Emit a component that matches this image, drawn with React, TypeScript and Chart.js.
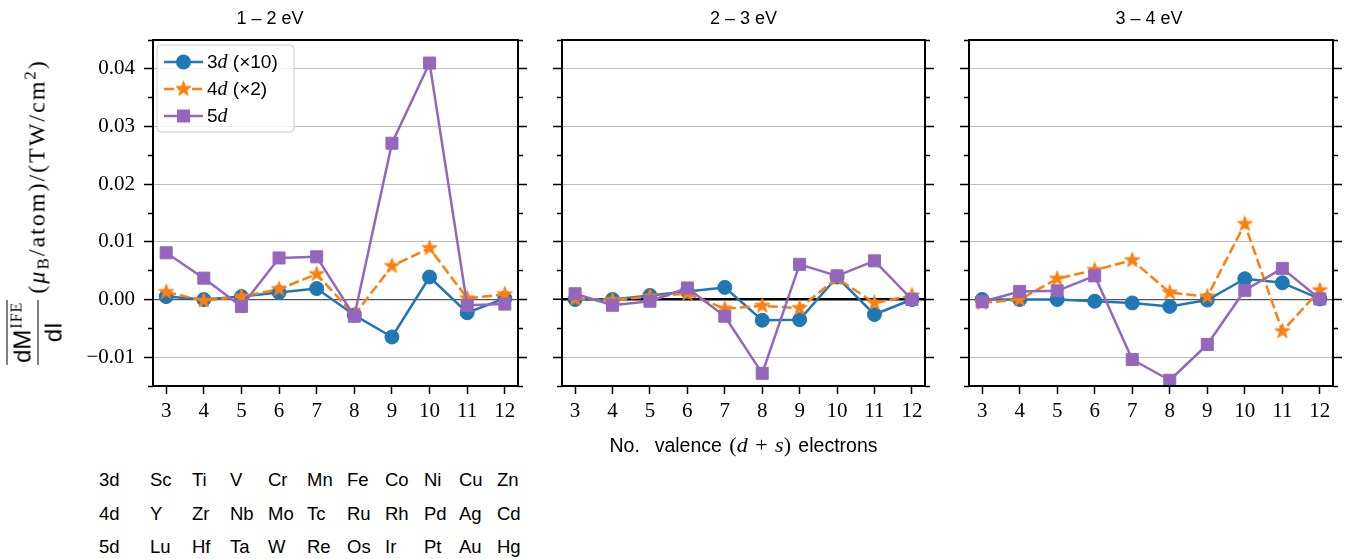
import React, { useEffect, useRef } from 'react';
import { Chart, registerables } from 'chart.js';

Chart.register(...registerables);

// Horizontal axis: number of valence (d + s) electrons
const valenceElectrons = [3, 4, 5, 6, 7, 8, 9, 10, 11, 12];
const xTickValues = [3, 4, 5, 6, 7, 8, 9, 10, 11, 12];
const yTickValues = [-0.015, -0.01, -0.005, 0, 0.005, 0.01, 0.015, 0.02, 0.025, 0.03, 0.035, 0.04, 0.045];
const yLabelledTicks = [-0.01, 0, 0.01, 0.02, 0.03, 0.04];

const panelTitles = ['1 – 2 eV', '2 – 3 eV', '3 – 4 eV'];
const seriesLabels = ['3d (×10)', '4d (×2)', '5d'];

// Photon energy 1–2 eV
const band12_3d = [0.0005, 0.0, 0.0005, 0.0012, 0.0019, -0.0027, -0.0065, 0.0039, -0.0023, 0.0002];
const band12_4d = [0.0013, -0.0002, 0.0005, 0.0018, 0.0044, -0.0027, 0.0058, 0.0089, 0.0002, 0.0009];
const band12_5d = [0.0081, 0.0037, -0.0012, 0.0072, 0.0074, -0.0029, 0.0271, 0.0410, -0.0010, -0.0008];

// Photon energy 2–3 eV
const band23_3d = [0.0, 0.0, 0.0007, 0.0014, 0.0021, -0.0036, -0.0035, 0.0039, -0.0026, 0.0];
const band23_4d = [0.0001, -0.0001, 0.0005, 0.0010, -0.0016, -0.0011, -0.0015, 0.0037, -0.0006, 0.0007];
const band23_5d = [0.0010, -0.0010, -0.0003, 0.0020, -0.0029, -0.0128, 0.0061, 0.0041, 0.0067, 0.0];

// Photon energy 3–4 eV
const band34_3d = [0.0, 0.0, 0.0, -0.0003, -0.0006, -0.0012, -0.0001, 0.0036, 0.0029, 0.0001];
const band34_4d = [-0.0006, 0.0, 0.0036, 0.0051, 0.0068, 0.0012, 0.0005, 0.0131, -0.0055, 0.0016];
const band34_5d = [-0.0004, 0.0014, 0.0015, 0.0041, -0.0104, -0.0140, -0.0078, 0.0016, 0.0054, 0.0001];

// Element key below the first panel
const shellLabels = ['3d', '4d', '5d'];
const elements3d = ['Sc', 'Ti', 'V', 'Cr', 'Mn', 'Fe', 'Co', 'Ni', 'Cu', 'Zn'];
const elements4d = ['Y', 'Zr', 'Nb', 'Mo', 'Tc', 'Ru', 'Rh', 'Pd', 'Ag', 'Cd'];
const elements5d = ['Lu', 'Hf', 'Ta', 'W', 'Re', 'Os', 'Ir', 'Pt', 'Au', 'Hg'];

const SANS = '"Liberation Sans", Arial, Helvetica, sans-serif';
const SERIF = '"Liberation Serif", "Times New Roman", serif';
const BLUE = '#1f77b4';
const ORANGE = '#ff7f0e';
const PURPLE = '#9467bd';
const GRID = 'rgba(0,0,0,0.25)';
const LINE_W = 2.5;

const CANVAS_H = 440;
const PLOT_TOP = 40;
const PLOT_BOTTOM = 386;

const panels = [
  { title: panelTitles[0], series: [band12_3d, band12_4d, band12_5d], canvasLeft: 0, canvasWidth: 540, plotLeft: 153, plotRight: 518, zeroColor: '#555', zeroWidth: 1.2, yLabels: true, legend: true },
  { title: panelTitles[1], series: [band23_3d, band23_4d, band23_5d], canvasLeft: 540, canvasWidth: 407, plotLeft: 562, plotRight: 925, zeroColor: '#000', zeroWidth: 2.5, yLabels: false, legend: false },
  { title: panelTitles[2], series: [band34_3d, band34_4d, band34_5d], canvasLeft: 947, canvasWidth: 404, plotLeft: 969, plotRight: 1333, zeroColor: '#555', zeroWidth: 1.2, yLabels: false, legend: false },
];

const tableColumnX = [150, 192, 230, 268, 307, 347, 385, 424, 459, 497];
const tableRowY = [480, 514, 547];

const isLabelled = (v: number) => yLabelledTicks.some((t) => Math.abs(t - v) < 1e-9);

function makeStar(color: string, outer: number, inner: number) {
  const pad = 1.5;
  const size = Math.ceil(2 * (outer + pad));
  const c = document.createElement('canvas');
  c.width = size;
  c.height = size;
  const g = c.getContext('2d')!;
  g.translate(size / 2, size / 2);
  g.beginPath();
  for (let k = 0; k < 10; k++) {
    const r = k % 2 === 0 ? outer : inner;
    const a = -Math.PI / 2 + (k * Math.PI) / 5;
    const px = r * Math.cos(a);
    const py = r * Math.sin(a);
    if (k === 0) g.moveTo(px, py);
    else g.lineTo(px, py);
  }
  g.closePath();
  g.fillStyle = color;
  g.fill();
  g.lineWidth = 1;
  g.strokeStyle = color;
  g.stroke();
  return c;
}

// Spines around the plotting area
const framePlugin = {
  id: 'frame',
  afterDatasetsDraw(chart: any) {
    const { ctx, chartArea } = chart;
    const { left, top, right, bottom } = chartArea;
    ctx.save();
    ctx.strokeStyle = '#000';
    ctx.lineWidth = 2;
    ctx.strokeRect(left, top, right - left, bottom - top);
    ctx.restore();
  },
};

// Legend with line + marker samples, drawn inside the first panel
const legendPlugin = {
  id: 'lineMarkerLegend',
  afterDraw(chart: any) {
    const ctx: CanvasRenderingContext2D = chart.ctx;
    const bx = 157, by = 45, bw = 137, bh = 87, r = 4;
    ctx.save();
    ctx.beginPath();
    ctx.moveTo(bx + r, by);
    ctx.arcTo(bx + bw, by, bx + bw, by + bh, r);
    ctx.arcTo(bx + bw, by + bh, bx, by + bh, r);
    ctx.arcTo(bx, by + bh, bx, by, r);
    ctx.arcTo(bx, by, bx + bw, by, r);
    ctx.closePath();
    ctx.fillStyle = 'rgba(255,255,255,0.8)';
    ctx.fill();
    ctx.strokeStyle = '#cccccc';
    ctx.lineWidth = 1;
    ctx.stroke();

    const rows = [62, 89, 116];
    [0, 1, 2].forEach((di, k) => {
      const ds = chart.data.datasets[di];
      const y = rows[k];
      ctx.setLineDash(ds.borderDash || []);
      ctx.strokeStyle = ds.borderColor;
      ctx.lineWidth = ds.borderWidth;
      ctx.beginPath();
      ctx.moveTo(164, y);
      ctx.lineTo(203, y);
      ctx.stroke();
      ctx.setLineDash([]);
      const mx = 183.5;
      ctx.fillStyle = ds.pointBackgroundColor;
      if (typeof ds.pointStyle === 'object') {
        const img = ds.pointStyle as HTMLCanvasElement;
        ctx.drawImage(img, mx - img.width / 2, y - img.height / 2);
      } else if (ds.pointStyle === 'rect') {
        ctx.fillRect(mx - 6.5, y - 6.5, 13, 13);
      } else {
        ctx.beginPath();
        ctx.arc(mx, y, 7.5, 0, Math.PI * 2);
        ctx.fill();
      }
      // label: leading digit in sans, orbital letter in math italic, rest in sans
      const label: string = ds.label;
      const parts: [string, string][] = [
        [label.slice(0, 1), `19px ${SANS}`],
        [label.slice(1, 2), `italic 20px ${SERIF}`],
        [label.slice(2), `19px ${SANS}`],
      ];
      let tx = 207;
      ctx.fillStyle = '#000';
      ctx.textBaseline = 'middle';
      ctx.textAlign = 'left';
      parts.forEach(([s, f]) => {
        if (!s) return;
        ctx.font = f;
        ctx.fillText(s, tx, y + 1);
        tx += ctx.measureText(s).width;
      });
    });
    ctx.restore();
  },
};

function buildConfig(p: (typeof panels)[number], star: HTMLCanvasElement) {
  const leftWidth = p.plotLeft - p.canvasLeft;
  const rightWidth = p.canvasLeft + p.canvasWidth - p.plotRight;
  const xHeight = CANVAS_H - PLOT_BOTTOM;
  const toPoints = (vals: number[]) => valenceElectrons.map((x, i) => ({ x, y: vals[i] }));
  const tickFont = { family: SERIF, size: 21 };
  const setYTicks = (s: any) => {
    s.ticks = yTickValues.map((v) => ({ value: v }));
  };
  return {
    type: 'line' as const,
    data: {
      datasets: [
        {
          label: seriesLabels[0],
          data: toPoints(p.series[0]),
          borderColor: BLUE,
          backgroundColor: BLUE,
          pointBackgroundColor: BLUE,
          pointBorderColor: BLUE,
          borderWidth: LINE_W,
          pointStyle: 'circle',
          pointRadius: 7,
          pointBorderWidth: 1,
          borderJoinStyle: 'round',
          order: 2,
        },
        {
          label: seriesLabels[1],
          data: toPoints(p.series[1]),
          borderColor: ORANGE,
          backgroundColor: ORANGE,
          pointBackgroundColor: ORANGE,
          pointBorderColor: ORANGE,
          borderWidth: LINE_W,
          borderDash: [10, 4],
          pointStyle: star,
          pointRadius: 8,
          borderJoinStyle: 'round',
          order: 1,
        },
        {
          label: seriesLabels[2],
          data: toPoints(p.series[2]),
          borderColor: PURPLE,
          backgroundColor: PURPLE,
          pointBackgroundColor: PURPLE,
          pointBorderColor: PURPLE,
          borderWidth: LINE_W,
          pointStyle: 'rect',
          pointRadius: 8.5,
          pointBorderWidth: 1,
          borderJoinStyle: 'round',
          order: 0,
        },
      ],
    },
    options: {
      responsive: false,
      animation: false,
      events: [],
      layout: { padding: 0 },
      plugins: {
        legend: { display: false },
        tooltip: { enabled: false },
        title: {
          display: true,
          text: p.title,
          color: '#000',
          font: { family: SANS, size: 18, weight: 'normal', lineHeight: 1.2 },
          padding: { top: 8, bottom: PLOT_TOP - 8 - 21.6 },
        },
      },
      scales: {
        x: {
          type: 'linear',
          position: 'bottom',
          min: 2.65,
          max: 12.35,
          afterBuildTicks: (s: any) => {
            s.ticks = xTickValues.map((v) => ({ value: v }));
          },
          afterFit: (s: any) => {
            s.height = xHeight;
          },
          ticks: { autoSkip: false, maxRotation: 0, color: '#000', font: tickFont, padding: 5, callback: (v: any) => String(v) },
          grid: { drawOnChartArea: false, drawTicks: true, tickLength: 8, tickColor: '#000', tickWidth: 1.5 },
          border: { display: false },
        },
        y: {
          type: 'linear',
          position: 'left',
          min: -0.015,
          max: 0.045,
          afterBuildTicks: setYTicks,
          afterFit: (s: any) => {
            s.width = leftWidth;
          },
          ticks: {
            display: p.yLabels,
            autoSkip: false,
            color: '#000',
            font: tickFont,
            padding: 9,
            callback: (v: any) => {
              const n = Number(v);
              if (!isLabelled(n)) return '';
              const s = Math.abs(n) < 1e-9 ? '0.00' : n.toFixed(2);
              return s.replace('-', '\u2212');
            },
          },
          grid: {
            drawOnChartArea: true,
            drawTicks: true,
            tickLength: 9,
            tickColor: '#000',
            tickWidth: 1.5,
            color: (c: any) => {
              const v = c.tick ? c.tick.value : NaN;
              if (Math.abs(v) < 1e-9) return p.zeroColor;
              return isLabelled(v) ? GRID : 'rgba(0,0,0,0)';
            },
            lineWidth: (c: any) => {
              const v = c.tick ? c.tick.value : NaN;
              return Math.abs(v) < 1e-9 ? p.zeroWidth : 1;
            },
            tickBorderDash: (c: any) => {
              const v = c.tick ? c.tick.value : NaN;
              return isLabelled(v) ? [] : [0, 4, 5, 100];
            },
          },
          border: { display: false },
        },
        yRight: {
          type: 'linear',
          position: 'right',
          min: -0.015,
          max: 0.045,
          afterBuildTicks: setYTicks,
          afterFit: (s: any) => {
            s.width = rightWidth;
          },
          ticks: { display: false },
          grid: {
            drawOnChartArea: false,
            drawTicks: true,
            tickLength: 9,
            tickColor: '#000',
            tickWidth: 1.5,
            tickBorderDash: (c: any) => {
              const v = c.tick ? c.tick.value : NaN;
              return isLabelled(v) ? [] : [5, 100];
            },
          },
          border: { display: false },
        },
      },
    },
    plugins: p.legend ? [framePlugin, legendPlugin] : [framePlugin],
  };
}

const abs = (left: number, top: number): React.CSSProperties => ({ position: 'absolute', left, top });

export default function App() {
  const ref0 = useRef<HTMLCanvasElement>(null);
  const ref1 = useRef<HTMLCanvasElement>(null);
  const ref2 = useRef<HTMLCanvasElement>(null);
  const refs = [ref0, ref1, ref2];

  useEffect(() => {
    const star = makeStar(ORANGE, 8, 3.1);
    const charts = panels.map((p, i) => new Chart(refs[i].current!, buildConfig(p, star) as any));
    return () => charts.forEach((c) => c.destroy());
  }, []);

  const elementRows = [elements3d, elements4d, elements5d];
  const tableFont: React.CSSProperties = { fontFamily: SANS, fontSize: 18.5, lineHeight: 1, color: '#000', whiteSpace: 'nowrap' };

  return (
    <div style={{ position: 'absolute', left: 0, top: 0, width: 1351, height: 559, background: '#fff', overflow: 'hidden' }}>
      {panels.map((p, i) => (
        <canvas
          key={i}
          ref={refs[i]}
          width={p.canvasWidth}
          height={CANVAS_H}
          style={{ position: 'absolute', left: p.canvasLeft, top: 0, width: p.canvasWidth, height: CANVAS_H, display: 'block' }}
        />
      ))}

      {/* vertical axis title */}
      <div
        style={{
          position: 'absolute',
          left: 36,
          top: 212,
          transform: 'translate(-50%, -50%) rotate(-90deg)',
          display: 'flex',
          alignItems: 'center',
          whiteSpace: 'nowrap',
          color: '#000',
        }}
      >
        <div style={{ display: 'inline-flex', flexDirection: 'column', alignItems: 'stretch', fontFamily: SANS, fontSize: 24, lineHeight: 1, textAlign: 'center' }}>
          <span style={{ borderTop: '1.5px solid #000', padding: '3px 2px 3px' }}>
            dM<span style={{ fontFamily: SERIF, fontSize: 16, position: 'relative', top: -9, marginLeft: 1, letterSpacing: 1 }}>IFE</span>
          </span>
          <span style={{ borderTop: '1.5px solid #000', paddingTop: 3 }}>dI</span>
        </div>
        <span style={{ fontFamily: SERIF, fontSize: 24, lineHeight: 1, marginLeft: 6, letterSpacing: 2 }}>
          (<i>μ</i>
          <span style={{ fontSize: 17, position: 'relative', top: 4 }}>B</span>/atom)/(TW/cm
          <span style={{ fontSize: 17, position: 'relative', top: -9 }}>2</span>)
        </span>
      </div>

      {/* horizontal axis title under the middle panel */}
      <div
        style={{
          position: 'absolute',
          left: 743.5,
          top: 445,
          transform: 'translate(-50%, -50%)',
          fontFamily: SANS,
          fontSize: 19.5,
          lineHeight: 1,
          whiteSpace: 'nowrap',
          color: '#000',
          wordSpacing: 2,
        }}
      >
        No.&nbsp; valence <span style={{ fontFamily: SERIF, fontSize: 22 }}>(<i>d</i> + <i>s</i>)</span> electrons
      </div>

      {/* element key */}
      {shellLabels.map((shell, r) => (
        <React.Fragment key={shell}>
          <span style={{ ...abs(99, tableRowY[r]), ...tableFont, transform: 'translateY(-50%)' }}>{shell}</span>
          {elementRows[r].map((el, c) => (
            <span key={el} style={{ ...abs(tableColumnX[c], tableRowY[r]), ...tableFont, transform: 'translateY(-50%)' }}>
              {el}
            </span>
          ))}
        </React.Fragment>
      ))}
    </div>
  );
}
